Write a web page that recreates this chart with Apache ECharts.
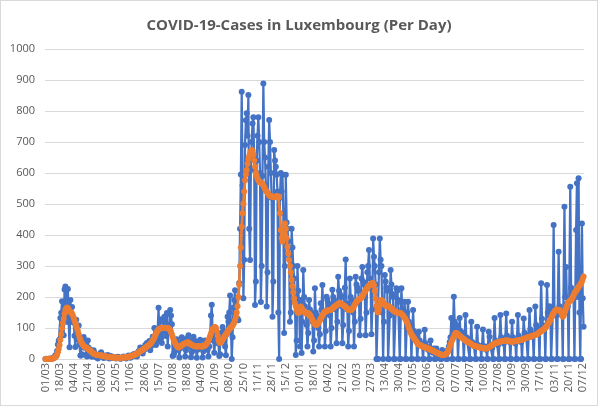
<!DOCTYPE html>
<html>
<head>
<meta charset="utf-8">
<title>COVID-19-Cases in Luxembourg (Per Day)</title>
<script src="https://cdn.jsdelivr.net/npm/echarts@6.0.0/dist/echarts.min.js"></script>
<style>
    html, body { margin: 0; padding: 0; background: #fff; }
    #chart-cases { width: 596px; height: 404px; border: 1px solid #d9d9d9; }
</style>
</head>
<body>
<div id="chart-cases"></div>
<script>
// first day of the series, one value per day after that
var startDate = new Date(2020, 2, 1);

// y axis ticks
var yTicks = [0, 100, 200, 300, 400, 500, 600, 700, 800, 900, 1000];

// new cases per day (one line = one week, Sunday first)
var dailyCases = [
    0, 1, 0, 0, 1, 0, 1,
    0, 3, 2, 3, 7, 12, 12,
    26, 47, 59, 63, 132, 149, 186,
    128, 77, 224, 234, 120, 152, 226,
    119, 38, 190, 141, 168, 125, 117,
    75, 39, 127, 64, 81, 108, 47,
    11, 11, 15, 66, 71, 36, 57,
    13, 8, 60, 36, 11, 30, 24,
    7, 13, 28, 19, 15, 6, 11,
    2, 8, 11, 18, 22, 10, 7,
    3, 7, 11, 5, 8, 13, 4,
    2, 10, 6, 8, 3, 5, 4,
    3, 2, 6, 7, 5, 4, 1,
    2, 4, 6, 8, 5, 3, 2,
    6, 9, 11, 7, 4, 6, 12,
    10, 15, 9, 17, 14, 8, 19,
    25, 21, 37, 29, 22, 18, 35,
    30, 45, 38, 52, 44, 36, 58,
    28, 41, 60, 72, 55, 100, 47,
    45, 58, 95, 165, 72, 128, 66,
    52, 100, 120, 136, 88, 74, 148,
    40, 95, 110, 158, 140, 112, 10,
    12, 20, 58, 45, 64, 38, 30,
    5, 34, 52, 70, 48, 55, 42,
    8, 28, 66, 58, 77, 60, 40,
    6, 22, 50, 72, 45, 58, 30,
    4, 30, 48, 55, 62, 40, 35,
    5, 25, 45, 60, 52, 48, 30,
    8, 40, 70, 140, 175, 85, 60,
    20, 55, 80, 72, 65, 50, 10,
    15, 70, 85, 103, 90, 78, 40,
    12, 80, 136, 120, 150, 205, 110,
    0, 70, 165, 190, 222, 180, 130,
    130, 125, 245, 420, 595, 862, 560,
    196, 320, 690, 770, 793, 720, 852,
    420, 319, 610, 700, 760, 780, 650,
    174, 250, 640, 720, 780, 700, 600,
    184, 300, 590, 889, 700, 650, 560,
    169, 280, 620, 771, 700, 600, 520,
    136, 250, 674, 640, 620, 594, 540,
    150, 0, 520, 600, 540, 594, 470,
    84, 300, 594, 440, 420, 380, 330,
    120, 150, 420, 360, 300, 260, 190,
    13, 60, 300, 220, 180, 40, 190,
    19, 120, 287, 200, 170, 150, 110,
    40, 84, 190, 160, 150, 140, 120,
    24, 60, 228, 150, 140, 130, 100,
    40, 80, 180, 160, 239, 150, 130,
    40, 90, 201, 190, 180, 170, 140,
    40, 100, 223, 200, 190, 180, 160,
    51, 120, 265, 220, 210, 200, 170,
    51, 110, 200, 230, 321, 180, 160,
    40, 90, 260, 200, 190, 170, 150,
    40, 120, 265, 240, 230, 220, 190,
    77, 130, 260, 297, 250, 240, 200,
    77, 150, 280, 300, 352, 260, 230,
    80, 160, 389, 330, 300, 240, 0,
    0, 0, 280, 389, 320, 300, 150,
    0, 120, 271, 250, 230, 220, 0,
    0, 140, 287, 240, 210, 200, 0,
    0, 150, 228, 220, 190, 185, 0,
    0, 228, 160, 150, 140, 185, 0,
    0, 150, 185, 120, 110, 100, 0,
    0, 158, 90, 80, 70, 60, 0,
    0, 88, 60, 50, 45, 40, 0,
    0, 94, 50, 40, 35, 30, 0,
    0, 60, 30, 25, 20, 34, 0,
    0, 34, 20, 15, 12, 10, 0,
    0, 29, 15, 12, 10, 14, 0,
    0, 30, 40, 55, 70, 132, 0,
    0, 201, 120, 100, 110, 95, 0,
    0, 132, 90, 80, 85, 70, 0,
    0, 142, 70, 60, 65, 55, 0,
    0, 120, 55, 50, 45, 40, 0,
    0, 104, 45, 40, 42, 38, 0,
    0, 95, 40, 35, 40, 30, 0,
    0, 88, 72, 40, 45, 35, 0,
    0, 132, 60, 55, 50, 45, 0,
    0, 142, 70, 60, 55, 50, 0,
    0, 147, 75, 65, 60, 55, 0,
    0, 120, 70, 60, 55, 50, 0,
    0, 142, 75, 65, 60, 55, 0,
    0, 131, 85, 80, 75, 70, 0,
    0, 158, 95, 85, 80, 75, 0,
    0, 169, 110, 100, 95, 90, 0,
    0, 244, 130, 110, 105, 100, 0,
    0, 239, 150, 140, 170, 160, 0,
    0, 150, 432, 160, 150, 140, 0,
    0, 346, 170, 160, 150, 140, 0,
    0, 491, 200, 297, 180, 170, 0,
    0, 556, 230, 210, 220, 200, 0,
    0, 416, 567, 200, 583, 150, 0,
    0, 437, 196, 104
];

// 7-day average
var weekAverage = [
    0, 0, 0, 0, 1, 1, 1,
    1, 1, 2, 3, 4, 6, 9,
    14, 22, 32, 45, 62, 80, 98,
    115, 130, 146, 158, 163, 166, 164,
    160, 155, 152, 150, 146, 140, 132,
    124, 115, 107, 98, 90, 80, 70,
    62, 55, 50, 46, 42, 40, 38,
    37, 35, 33, 31, 29, 27, 24,
    21, 19, 17, 16, 15, 14, 13,
    12, 12, 12, 12, 11, 11, 10,
    9, 9, 8, 8, 7, 7, 7,
    6, 6, 6, 5, 5, 5, 5,
    4, 4, 4, 4, 4, 4, 4,
    4, 4, 5, 5, 5, 5, 6,
    6, 7, 7, 8, 8, 9, 10,
    11, 12, 13, 14, 16, 17, 19,
    21, 23, 25, 27, 28, 30, 32,
    34, 36, 38, 40, 42, 44, 46,
    48, 52, 56, 60, 64, 70, 76,
    82, 88, 92, 95, 97, 98, 99,
    100, 101, 101, 100, 101, 100, 99,
    100, 99, 97, 93, 87, 80, 72,
    64, 57, 51, 46, 42, 39, 37,
    38, 40, 42, 44, 46, 48, 49,
    50, 52, 53, 54, 53, 51, 49,
    47, 46, 44, 43, 42, 41, 40,
    40, 40, 41, 42, 41, 40, 40,
    40, 41, 42, 44, 46, 50, 55,
    60, 66, 74, 82, 90, 96, 100,
    102, 103, 100, 90, 76, 62, 54,
    52, 54, 58, 63, 68, 72, 76,
    80, 84, 88, 92, 96, 99, 102,
    104, 108, 112, 118, 126, 136, 150,
    170, 200, 240, 300, 360, 427, 470,
    502, 540, 577, 595, 610, 630, 645,
    655, 664, 670, 674, 672, 660, 640,
    620, 600, 590, 582, 577, 572, 570,
    568, 567, 565, 560, 555, 548, 543,
    540, 536, 532, 528, 526, 524, 524,
    524, 523, 522, 522, 524, 526, 525,
    524, 522, 470, 416, 390, 378, 395,
    420, 437, 420, 390, 362, 340, 319,
    300, 280, 255, 235, 215, 195, 180,
    170, 160, 152, 148, 150, 160, 169,
    165, 160, 156, 152, 150, 148, 146,
    148, 148, 146, 142, 138, 132, 126,
    120, 115, 112, 110, 110, 112, 116,
    120, 126, 130, 135, 140, 145, 150,
    152, 154, 155, 156, 157, 158, 158,
    158, 160, 162, 165, 168, 170, 172,
    174, 176, 178, 180, 180, 179, 177,
    176, 174, 172, 170, 168, 165, 162,
    160, 158, 158, 158, 159, 162, 166,
    170, 175, 180, 184, 188, 190, 192,
    194, 196, 198, 202, 207, 212, 217,
    222, 226, 230, 234, 237, 239, 241,
    243, 245, 244, 238, 220, 195, 170,
    155, 150, 160, 175, 185, 190, 188,
    182, 178, 175, 172, 170, 169, 170,
    170, 168, 165, 162, 160, 157, 155,
    154, 152, 150, 150, 149, 149, 148,
    148, 146, 143, 140, 136, 132, 128,
    122, 116, 108, 100, 92, 86, 80,
    76, 72, 68, 64, 60, 56, 52,
    49, 46, 45, 44, 42, 41, 40,
    39, 38, 37, 36, 35, 34, 33,
    32, 30, 29, 28, 27, 26, 24,
    22, 20, 19, 18, 17, 16, 15,
    14, 13, 13, 13, 14, 15, 17,
    19, 24, 30, 38, 46, 54, 61,
    66, 72, 78, 84, 84, 82, 80,
    77, 75, 72, 70, 68, 66, 64,
    62, 60, 58, 56, 55, 54, 52,
    50, 48, 46, 44, 43, 42, 41,
    40, 40, 39, 38, 37, 37, 36,
    36, 35, 35, 34, 34, 34, 35,
    36, 37, 39, 41, 43, 45, 47,
    48, 50, 51, 52, 53, 54, 55,
    56, 56, 57, 57, 58, 58, 59,
    59, 60, 60, 60, 59, 58, 57,
    56, 56, 56, 57, 57, 58, 59,
    59, 60, 60, 61, 61, 62, 63,
    64, 65, 66, 67, 68, 69, 70,
    70, 71, 72, 73, 74, 75, 76,
    77, 78, 79, 80, 82, 84, 86,
    88, 90, 92, 94, 96, 98, 100,
    104, 108, 112, 116, 120, 126, 132,
    138, 144, 148, 153, 156, 158, 159,
    160, 158, 158, 155, 150, 144, 136,
    140, 148, 156, 164, 172, 180, 183,
    186, 188, 190, 194, 200, 206, 212,
    216, 220, 224, 228, 232, 236, 240,
    244, 250, 258, 266
];

// dd/mm labels, one per day
var days = [];
for (var i = 0; i < dailyCases.length; i++) {
    var d = new Date(startDate.getFullYear(), startDate.getMonth(), startDate.getDate() + i);
    days.push(('0' + d.getDate()).slice(-2) + '/' + ('0' + (d.getMonth() + 1)).slice(-2));
}

var chart_cases = echarts.init(document.getElementById('chart-cases'), null, {renderer: 'canvas'});

var option_cases = {
    animation: false,
    title: {
        text: 'COVID-19-Cases in Luxembourg (Per Day)',
        left: 'center',
        top: 12,
        textStyle: {
            fontFamily: 'Open Sans',
            fontSize: 15,
            fontWeight: 'bold',
            color: '#595959'
        }
    },
    grid: {
        left: 44,
        right: 13,
        top: 48,
        bottom: 46
    },
    xAxis: {
        type: 'category',
        data: days,
        boundaryGap: true,
        axisTick: { show: false },
        axisLine: { lineStyle: { color: '#d9d9d9', width: 1 } },
        axisLabel: {
            interval: 16,
            rotate: 90,
            margin: 4,
            fontFamily: 'Open Sans',
            fontSize: 11,
            color: '#595959'
        }
    },
    yAxis: {
        type: 'value',
        min: yTicks[0],
        max: yTicks[yTicks.length - 1],
        interval: yTicks[1] - yTicks[0],
        axisLine: { show: false },
        axisTick: { show: false },
        splitLine: { lineStyle: { color: '#d9d9d9', width: 1 } },
        axisLabel: {
            margin: 10,
            fontFamily: 'Open Sans',
            fontSize: 11,
            color: '#595959',
            formatter: function (value) {
                return String(value);
            }
        }
    },
    series: [
        {
            name: 'Cases per day',
            type: 'line',
            data: dailyCases,
            symbol: 'circle',
            symbolSize: 6,
            showAllSymbol: true,
            lineStyle: { color: '#4472C4', width: 2.25 },
            itemStyle: { color: '#4472C4' },
            z: 2
        },
        {
            name: '7-day average',
            type: 'line',
            data: weekAverage,
            symbol: 'circle',
            symbolSize: 6,
            showAllSymbol: true,
            lineStyle: { color: '#ED7D31', width: 2.75 },
            itemStyle: { color: '#ED7D31' },
            z: 3
        }
    ]
};

chart_cases.setOption(option_cases);
</script>
</body>
</html>
